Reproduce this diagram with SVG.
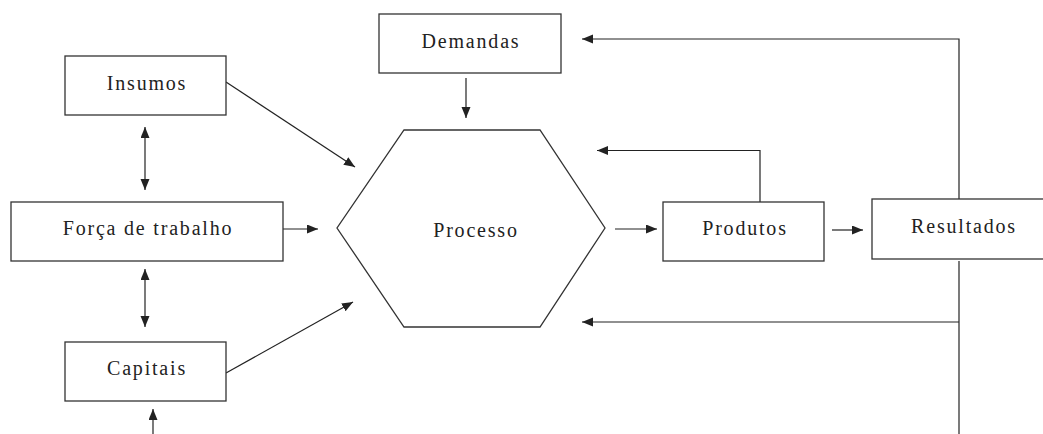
<svg xmlns="http://www.w3.org/2000/svg" width="1043" height="434" viewBox="0 0 1043 434">
<style>
.box{fill:#fff;stroke:#333;stroke-width:1.3}
.lbl{font-family:"Liberation Serif","DejaVu Serif",serif;font-size:20px;letter-spacing:1.8px;fill:#222;text-anchor:middle}
.ln{fill:none;stroke:#222;stroke-width:1.2}
</style>
<defs>
<marker id="ah" markerUnits="userSpaceOnUse" markerWidth="12" markerHeight="10" refX="11" refY="4.5" orient="auto-start-reverse" viewBox="0 0 12 10">
<path d="M0,0 L11,4.5 L0,9 z" fill="#222"/>
</marker>
</defs>
<rect width="1043" height="434" fill="#fff"/>
<g id="connectors">
<line class="ln" x1="226" y1="82" x2="355" y2="167" marker-end="url(#ah)"/>
<line class="ln" x1="145" y1="127" x2="145" y2="190" marker-start="url(#ah)" marker-end="url(#ah)"/>
<line class="ln" x1="283" y1="229" x2="318" y2="229" marker-end="url(#ah)"/>
<line class="ln" x1="145" y1="269" x2="145" y2="327" marker-start="url(#ah)" marker-end="url(#ah)"/>
<line class="ln" x1="226" y1="373" x2="353" y2="302" marker-end="url(#ah)"/>
<line class="ln" x1="153" y1="434" x2="153" y2="409" marker-end="url(#ah)"/>
<line class="ln" x1="466" y1="78" x2="466" y2="118" marker-end="url(#ah)"/>
<line class="ln" x1="615" y1="229" x2="657" y2="229" marker-end="url(#ah)"/>
<line class="ln" x1="832" y1="230" x2="863" y2="230" marker-end="url(#ah)"/>
<polyline class="ln" points="760,202 760,150.5 597,150.5" marker-end="url(#ah)"/>
<polyline class="ln" points="959,199 959,39 582,39" marker-end="url(#ah)"/>
<line class="ln" x1="959" y1="261" x2="959" y2="434"/>
<line class="ln" x1="959" y1="322" x2="582" y2="322" marker-end="url(#ah)"/>
</g>
<g id="insumos">
<rect class="box" x="65" y="56" width="161" height="59"/>
<text class="lbl" x="147" y="90">Insumos</text>
</g>
<g id="forca">
<rect class="box" x="11" y="202" width="272" height="59"/>
<text class="lbl" x="148" y="235">Força de trabalho</text>
</g>
<g id="capitais">
<rect class="box" x="65" y="342" width="161" height="59"/>
<text class="lbl" x="147" y="375">Capitais</text>
</g>
<g id="demandas">
<rect class="box" x="379" y="14" width="182" height="59"/>
<text class="lbl" x="471" y="48">Demandas</text>
</g>
<g id="processo">
<polygon class="box" points="404,130 540,130 605,228 540,327 404,327 337,228"/>
<text class="lbl" x="476" y="237">Processo</text>
</g>
<g id="produtos">
<rect class="box" x="663" y="202" width="161" height="59"/>
<text class="lbl" x="745" y="235">Produtos</text>
</g>
<g id="resultados">
<rect class="box" x="872" y="199" width="180" height="60"/>
<text class="lbl" x="964" y="233">Resultados</text>
</g>
</svg>
